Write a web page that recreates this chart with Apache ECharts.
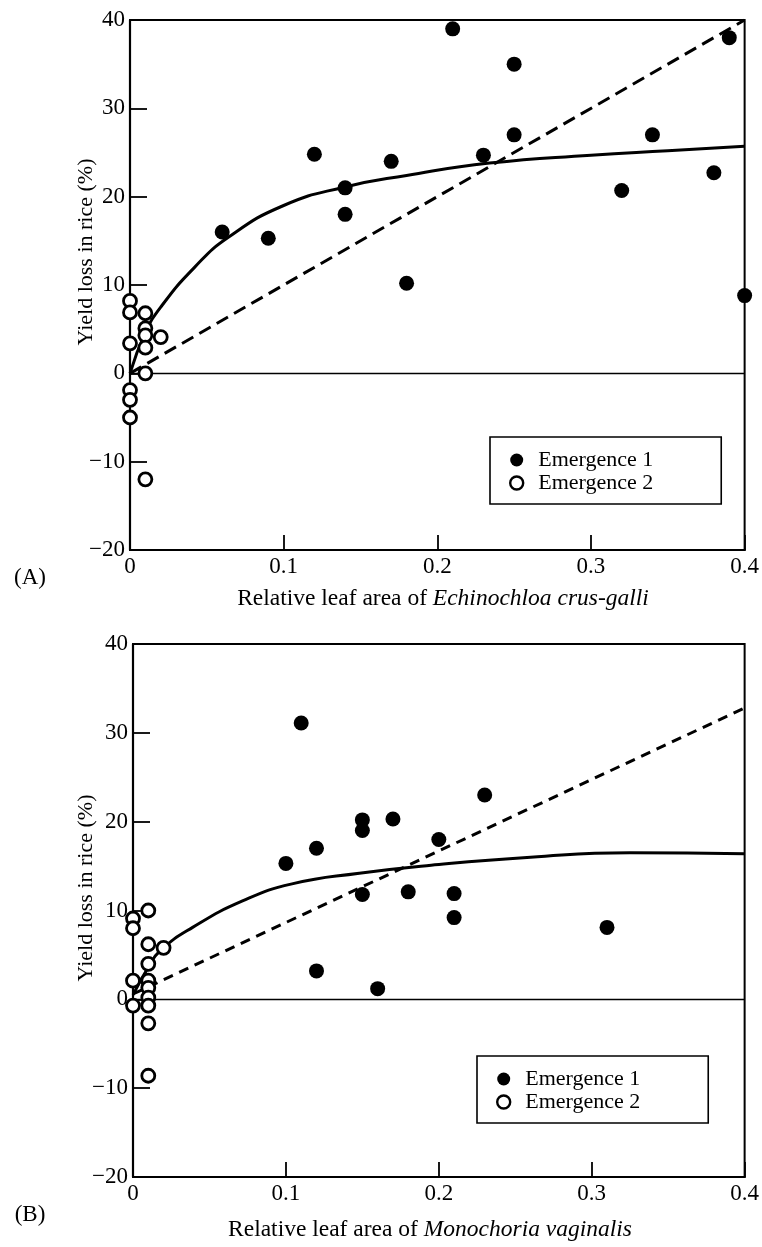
<!DOCTYPE html>
<html>
<head>
<meta charset="utf-8">
<script src="https://cdn.jsdelivr.net/npm/echarts@6/dist/echarts.min.js"></script>
<style>
  html, body { margin: 0; padding: 0; background: #fff; }
  #chart { width: 762px; height: 1247px; }
</style>
</head>
<body>
<div id="chart"></div>
<script>
// ---- Panel A: Echinochloa crus-galli ----
const emergence1A = [[0.06,16],[0.09,15.3],[0.12,24.8],[0.14,21],[0.14,18],[0.17,24],[0.18,10.2],
  [0.21,39],[0.23,24.7],[0.25,35],[0.25,27],[0.32,20.7],[0.34,27],[0.38,22.7],[0.39,38],[0.40,8.8]];
const emergence2A = [[0,8.2],[0,6.9],[0,3.4],[0.01,6.8],[0.01,5.1],[0.01,4.3],[0.01,2.9],[0.02,4.1],
  [0.01,0],[0,-1.9],[0,-3],[0,-5],[0.01,-12]];
const hyperbolaA = [[0,0],[0.01,4.6],[0.02,7.5],[0.042,12],[0.064,15.4],[0.1,19],[0.14,21.1],
  [0.18,22.4],[0.234,23.8],[0.3,24.7],[0.35,25.2],[0.4,25.7]];
const linearA = [[0,0],[0.4,40]];

// ---- Panel B: Monochoria vaginalis ----
const emergence1B = [[0.10,15.3],[0.11,31.1],[0.12,17],[0.12,3.2],[0.15,20.2],[0.15,19],[0.15,11.8],
  [0.16,1.2],[0.17,20.3],[0.18,12.1],[0.20,18],[0.21,11.9],[0.21,9.2],[0.23,23],[0.31,8.1]];
const emergence2B = [[0,9.1],[0,8],[0,2.1],[0,-0.7],[0.01,10],[0.01,6.2],[0.02,5.8],[0.01,4],
  [0.01,2.1],[0.01,1.3],[0.01,0.2],[0.01,-0.7],[0.01,-2.7],[0.01,-8.6]];
const hyperbolaB = [[0,0.5],[0.01,3.6],[0.018,5.5],[0.039,8.1],[0.072,11.1],[0.104,13],[0.148,14.2],
  [0.195,15.1],[0.26,16],[0.325,16.5],[0.4,16.4]];
const linearB = [[0,0.6],[0.4,32.8]];

// ---- Axis ticks and text ----
const xTicks = { min: 0, max: 0.4, interval: 0.1 };
const yTicks = { min: -20, max: 40, interval: 10 };
const seriesNames = ['Emergence 1', 'Emergence 2'];
const yTitle = 'Yield loss in rice (%)';
const xTitleA = ['Relative leaf area of ', 'Echinochloa crus-galli'];
const xTitleB = ['Relative leaf area of ', 'Monochoria vaginalis'];
const panelTags = ['(A)', '(B)'];

const FONT = '"Liberation Serif", "Times New Roman", serif';
const INK = '#000';

function xAxisFor(gridIndex) {
  return {
    type: 'value', gridIndex, min: xTicks.min, max: xTicks.max, interval: xTicks.interval,
    axisLine: { show: true, onZero: false, lineStyle: { color: INK, width: 2.2 } },
    axisTick: { show: true, inside: true, length: 15, lineStyle: { color: INK, width: 1.8 } },
    axisLabel: { color: INK, fontFamily: FONT, fontSize: 23, margin: 5,
      formatter: v => v === 0 ? '0' : v.toFixed(1) },
    splitLine: { show: false }
  };
}
function yAxisFor(gridIndex) {
  return {
    type: 'value', gridIndex, min: yTicks.min, max: yTicks.max, interval: yTicks.interval,
    axisLine: { show: true, onZero: false, lineStyle: { color: INK, width: 2.2 } },
    axisTick: { show: true, inside: true, length: 17, lineStyle: { color: INK, width: 1.8 } },
    axisLabel: { color: INK, fontFamily: FONT, fontSize: 23, margin: 5,
      formatter: v => v < 0 ? '\u2212' + Math.abs(v) : String(v) },
    splitLine: { show: false }
  };
}

function panelSeries(idx, filled, open, curve, line, dash) {
  return [
    {
      name: seriesNames[0], type: 'scatter', xAxisIndex: idx, yAxisIndex: idx, z: 5,
      symbol: 'circle', symbolSize: 15, data: filled,
      itemStyle: { color: INK, opacity: 1 }
    },
    {
      name: seriesNames[1], type: 'scatter', xAxisIndex: idx, yAxisIndex: idx, z: 6,
      symbol: 'circle', symbolSize: 13, data: open,
      itemStyle: { color: '#fff', borderColor: INK, borderWidth: 2.8, opacity: 1 }
    },
    {
      name: 'fit', type: 'line', xAxisIndex: idx, yAxisIndex: idx, z: 3,
      data: curve, smooth: 0.5, showSymbol: false,
      lineStyle: { color: INK, width: 3 },
      markLine: {
        silent: true, symbol: 'none', label: { show: false },
        lineStyle: { color: INK, width: 1.4, type: 'solid' },
        data: [{ yAxis: 0 }]
      }
    },
    {
      name: 'linear', type: 'line', xAxisIndex: idx, yAxisIndex: idx, z: 3,
      data: line, showSymbol: false,
      lineStyle: { color: INK, width: 3, type: dash }
    }
  ];
}

function legendFor(left, top) {
  return {
    left, top, orient: 'vertical',
    data: [
      { name: seriesNames[0], icon: 'circle', itemStyle: { color: INK, borderWidth: 0, opacity: 1 } },
      { name: seriesNames[1], icon: 'circle',
        itemStyle: { color: '#fff', borderColor: INK, borderWidth: 2.4, opacity: 1 } }
    ],
    itemWidth: 13, itemHeight: 13, itemGap: 1,
    padding: [12, 68, 10, 19],
    borderColor: INK, borderWidth: 1.6,
    selectedMode: false,
    textStyle: { color: INK, fontFamily: FONT, fontSize: 22, padding: [0, 0, 0, 10] }
  };
}

function textEl(x, y, text, rotation, size) {
  return {
    type: 'text', x, y, rotation: rotation || 0,
    style: { text, fill: INK, font: (size || 22) + 'px ' + FONT, align: 'center', verticalAlign: 'middle' }
  };
}
function richTitle(x, y, parts) {
  return {
    type: 'text', x, y,
    style: {
      text: parts[0] + '{i|' + parts[1] + '}',
      fill: INK, font: '23.5px ' + FONT, align: 'center', verticalAlign: 'middle',
      rich: { i: { fontStyle: 'italic', fontFamily: FONT, fontSize: 23.5, fill: INK } }
    }
  };
}

const option = {
  animation: false,
  backgroundColor: '#fff',
  grid: [
    { left: 130, top: 20, width: 615, height: 530, show: true, borderColor: INK, borderWidth: 2 },
    { left: 133, top: 644, width: 615, height: 533, show: true, borderColor: INK, borderWidth: 2 }
  ],
  xAxis: [xAxisFor(0), xAxisFor(1)],
  yAxis: [yAxisFor(0), yAxisFor(1)],
  legend: [legendFor(490, 437), legendFor(477, 1056)],
  series: [
    ...panelSeries(0, emergence1A, emergence2A, hyperbolaA, linearA, [13, 7]),
    ...panelSeries(1, emergence1B, emergence2B, hyperbolaB, linearB, [10, 7])
  ],
  graphic: [
    textEl(86, 252, yTitle, Math.PI / 2),
    textEl(86, 888, yTitle, Math.PI / 2),
    richTitle(443, 599, xTitleA),
    richTitle(430, 1230, xTitleB),
    textEl(30, 578, panelTags[0], 0, 23),
    textEl(30, 1215, panelTags[1], 0, 23)
  ]
};

const chart = echarts.init(document.getElementById('chart'), null, { renderer: 'canvas' });
chart.setOption(option);
</script>
</body>
</html>
